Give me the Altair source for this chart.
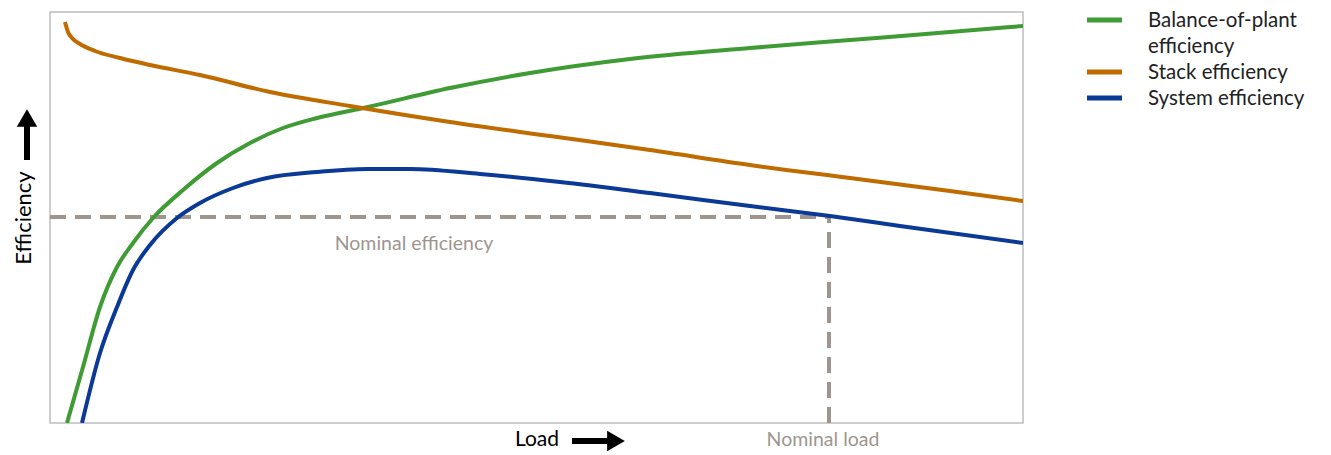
import altair as alt
import pandas as pd

# ---- data (x: load, y: efficiency, arbitrary units) ----
bop_x = [17, 33, 50, 67, 83, 103, 133, 167, 200, 233, 267, 318, 400, 480, 580, 700, 800, 900, 973]
bop_y = [0, 56, 116, 156, 180, 205, 233, 260, 280, 295, 305, 316, 335, 350, 364, 375, 383, 391, 397]

stack_x = [15, 18, 22, 30, 45, 70, 100, 150, 220, 300, 400, 500, 600, 700, 800, 900, 973]
stack_y = [401, 391, 385, 379, 372, 365, 358, 348, 331, 317, 301, 287, 273, 258, 245, 232, 222]

sys_x = [32, 50, 67, 83, 100, 127, 150, 183, 217, 267, 318, 360, 430, 510, 600, 700, 780, 850, 973]
sys_y = [0, 70, 116, 153, 178, 205, 220, 235, 245, 251, 254, 254, 249, 241, 230, 217, 207, 197, 180]

series_names = ["Balance-of-plant efficiency", "Stack efficiency", "System efficiency"]
series_colors = ["#3f9c35", "#bf6b00", "#0a3a96"]
legend_lines = [["Balance-of-plant", "efficiency"], ["Stack efficiency"], ["System efficiency"]]

nominal_load = 779
nominal_eff = 206
x_max = 973
y_max = 411

GRAY = "#9e958f"
FONT = "Lato"

rows = []
for name, xs_, ys_ in zip(series_names, [bop_x, stack_x, sys_x], [bop_y, stack_y, sys_y]):
    for i, (xv, yv) in enumerate(zip(xs_, ys_)):
        rows.append({"series": name, "load": xv, "eff": yv, "order": i})
curves = pd.DataFrame(rows)

xs = alt.Scale(domain=[0, x_max], nice=False, zero=False)
ys = alt.Scale(domain=[0, y_max], nice=False, zero=False)

lines = alt.Chart(curves).mark_line(strokeWidth=4, interpolate="monotone", clip=True).encode(
    x=alt.X("load:Q", scale=xs, axis=None),
    y=alt.Y("eff:Q", scale=ys, axis=None),
    color=alt.Color("series:N", scale=alt.Scale(domain=series_names, range=series_colors), legend=None),
    order="order:Q",
)

dash_df = pd.DataFrame({
    "x1": [0, nominal_load], "x2": [nominal_load, nominal_load],
    "y1": [nominal_eff, 0], "y2": [nominal_eff, nominal_eff],
})
dashes = alt.Chart(dash_df).mark_rule(color=GRAY, strokeWidth=4, strokeDash=[16, 9]).encode(
    x=alt.X("x1:Q", scale=xs, axis=None), x2="x2:Q",
    y=alt.Y("y1:Q", scale=ys, axis=None), y2="y2:Q",
)

nom_eff_text = alt.Chart(pd.DataFrame({"t": ["Nominal efficiency"], "x": [364], "y": [nominal_eff]})).mark_text(
    font=FONT, fontSize=19.5, color=GRAY, baseline="middle", dy=27
).encode(x=alt.X("x:Q", scale=xs, axis=None), y=alt.Y("y:Q", scale=ys, axis=None), text="t:N")

nom_load_text = alt.Chart(pd.DataFrame({"t": ["Nominal load"], "x": [nominal_load]})).mark_text(
    font=FONT, fontSize=19.5, color=GRAY, baseline="middle", dx=-6
).encode(x=alt.X("x:Q", scale=xs, axis=None), y=alt.value(y_max + 17), text="t:N")

# axis titles with arrows
load_label = alt.Chart(pd.DataFrame({"t": ["Load"]})).mark_text(
    font=FONT, fontSize=21, color="black", baseline="middle", align="center"
).encode(x=alt.value(487), y=alt.value(y_max + 17), text="t:N")
load_shaft = alt.Chart(pd.DataFrame({"a": [0]})).mark_rule(color="black", strokeWidth=6).encode(
    x=alt.value(522), x2=alt.value(560), y=alt.value(y_max + 18))
load_head = alt.Chart(pd.DataFrame({"a": [0]})).mark_point(
    shape="triangle-right", filled=True, color="black", opacity=1, size=420
).encode(x=alt.value(566), y=alt.value(y_max + 18))

eff_label = alt.Chart(pd.DataFrame({"t": ["Efficiency"]})).mark_text(
    font=FONT, fontSize=22, color="black", baseline="middle", align="center", angle=270
).encode(x=alt.value(-26), y=alt.value(206), text="t:N")
eff_shaft = alt.Chart(pd.DataFrame({"a": [0]})).mark_rule(color="black", strokeWidth=6).encode(
    x=alt.value(-23), y=alt.value(148), y2=alt.value(110))
eff_head = alt.Chart(pd.DataFrame({"a": [0]})).mark_point(
    shape="triangle-up", filled=True, color="black", opacity=1, size=420
).encode(x=alt.value(-23), y=alt.value(106))

# legend
legend_layers = []
row = 0
for name, color, lns in zip(series_names, series_colors, legend_lines):
    y0 = 8 + 26 * row
    legend_layers.append(
        alt.Chart(pd.DataFrame({"a": [0]})).mark_rule(color=color, strokeWidth=5).encode(
            x=alt.value(1037), x2=alt.value(1072), y=alt.value(y0))
    )
    for j, ln in enumerate(lns):
        legend_layers.append(
            alt.Chart(pd.DataFrame({"t": [ln]})).mark_text(
                font=FONT, fontSize=20.5, color="#222222", align="left", baseline="middle", dy=1
            ).encode(x=alt.value(1098), y=alt.value(y0 + 26 * j), text="t:N")
        )
    row += len(lns)

chart = alt.layer(
    dashes, lines, nom_eff_text, nom_load_text,
    load_label, load_shaft, load_head, eff_label, eff_shaft, eff_head,
    *legend_layers,
).properties(
    width=973, height=411,
    autosize=alt.AutoSizeParams(type="none"),
    padding={"left": 42, "top": 4, "right": 300, "bottom": 30},
).configure_view(stroke="#bdbdbd", strokeWidth=1.5)

chart.save("out.html", embed_options={"renderer": "svg", "actions": False})
